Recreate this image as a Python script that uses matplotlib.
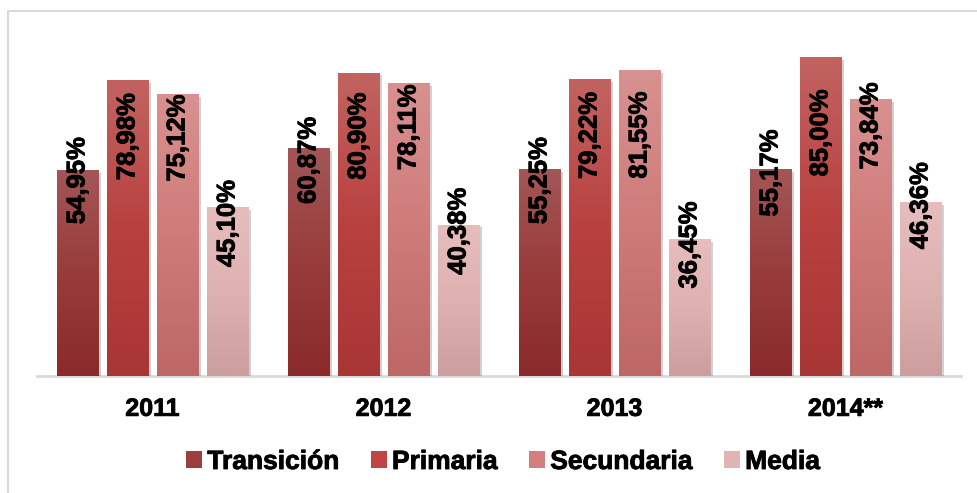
import numpy as np
import matplotlib
matplotlib.use("Agg")
from matplotlib import pyplot as plt
from matplotlib.patches import Rectangle, Patch
from matplotlib.colors import LinearSegmentedColormap
import matplotlib.patheffects as pe

plt.rcParams['font.family'] = ['Liberation Sans', 'DejaVu Sans']
plt.rcParams['font.weight'] = 'bold'

years = ['2011', '2012', '2013', '2014**']
series = ['Transición', 'Primaria', 'Secundaria', 'Media']
transicion = [54.95, 60.87, 55.25, 55.17]
primaria = [78.98, 80.90, 79.22, 85.00]
secundaria = [75.12, 78.11, 81.55, 73.84]
media = [45.10, 40.38, 36.45, 46.36]

# gradient stops (top, middle, bottom) and legend swatch colour
grad = [
    ('#a35656', '#983c3b', '#8a2a2a'),
    ('#c26361', '#b8413f', '#a83635'),
    ('#d89190', '#cf7b7a', '#bd6866'),
    ('#e6bcbc', '#dfb2b2', '#cc9e9e'),
]
swatch = ['#9b3e3e', '#c04646', '#d27f7f', '#e0b4b4']

# how far (px) each label's top sits below the bar top, as placed in the original
label_shift = [
    [-33, -31, -32, -40],
    [13, 20, 13, 32],
    [0, 1, 21, -17],
    [-27, -37, -38, -40],
]

heavy = [pe.withStroke(linewidth=0.6, foreground='black')]

fig = plt.figure(figsize=(9.77, 4.93), dpi=100)
ax = fig.add_axes([37 / 977, (493 - 376) / 493, 924 / 977, 337.5 / 493])

x = np.arange(len(years))
pitch = 0.2165
width = 0.1775
values = [transicion, primaria, secundaria, media]

for k, vals in enumerate(values):
    pos = x + (k - 1.5) * pitch
    bars = ax.bar(pos, vals, width, color=grad[k][1], zorder=2,
                  path_effects=[pe.SimplePatchShadow(offset=(2, -2), shadow_rgbFace='#000000', alpha=0.18),
                                pe.Normal()])
    cmap = LinearSegmentedColormap.from_list('g%d' % k, [grad[k][2], grad[k][1], grad[k][0]])
    for j, b in enumerate(bars):
        x0, w, h = b.get_x(), b.get_width(), b.get_height()
        im = ax.imshow(np.linspace(0, 1, 100).reshape(-1, 1), cmap=cmap, origin='lower',
                       extent=(x0, x0 + w, 0, h), aspect='auto', zorder=3)
        im.set_clip_path(b)
        ax.annotate(('%.2f' % vals[j]).replace('.', ',') + '%',
                    xy=(b.get_x() + w / 2, h), xytext=(0, -label_shift[k][j]),
                    textcoords='offset pixels', rotation=90, ha='center', va='top',
                    fontsize=18.5, fontweight='bold', color='black', zorder=5,
                    path_effects=heavy)

ax.set_xlim(-0.5, 3.5)
ax.set_ylim(0, 90)
ax.set_yticks([])
ax.set_xticks(x)
ax.set_xticklabels(years, fontsize=18, fontweight='bold', path_effects=heavy)
ax.tick_params(axis='x', length=0, pad=15)
for s in ['top', 'right', 'left']:
    ax.spines[s].set_visible(False)
ax.spines['bottom'].set_color('#d9d9d9')
ax.spines['bottom'].set_linewidth(2)
ax.spines['bottom'].set_zorder(1)
ax.set_facecolor('none')

handles = [Patch(facecolor=c, edgecolor='none') for c in swatch]
leg = fig.legend(handles, series, loc='center', bbox_to_anchor=(503 / 977, (493 - 462) / 493),
                 ncol=4, frameon=False, prop={'size': 19, 'weight': 'bold'},
                 handlelength=0.6, handleheight=0.6, handletextpad=0.2, columnspacing=1.2,
                 borderpad=0, borderaxespad=0)
for t in leg.get_texts():
    t.set_path_effects(heavy)

fig.patches.append(Rectangle((7.5 / 977, -0.2), 2, 1.2 - 10.5 / 493, transform=fig.transFigure,
                             fill=False, edgecolor='#d9d9d9', linewidth=1.5))

fig.savefig('out.png', dpi=100)
